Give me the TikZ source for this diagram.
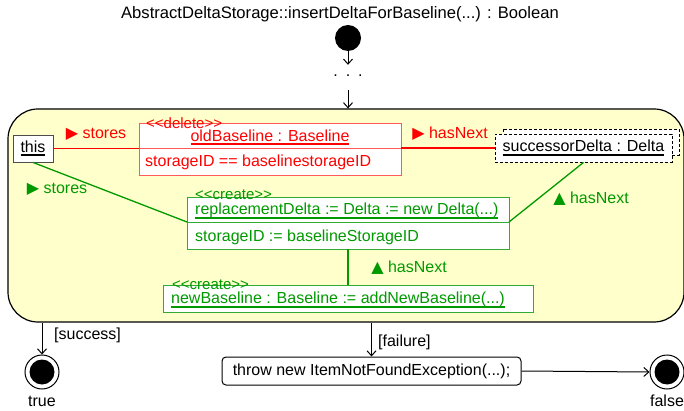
\documentclass[tikz,border=0pt]{standalone}
\usepackage{fontspec}
\setmainfont{Liberation Sans}
\newfontfamily\symf{DejaVu Sans}
\usetikzlibrary{arrows.meta}
\definecolor{actfill}{HTML}{FFFFCC}
\definecolor{delred}{HTML}{FF0000}
\definecolor{delbox}{HTML}{FF5A5A}
\definecolor{crgreen}{HTML}{009900}
\definecolor{crbox}{HTML}{33AA33}
\newcommand\rtri{{\symf\char"25B6}}
\newcommand\utri{{\symf\char"25B2}}
% thick underline for object names
\newsavebox\ulbox
\newcommand\objname[1]{\sbox\ulbox{#1}\rlap{\usebox\ulbox}\rule[-3.6pt]{\wd\ulbox}{1.8pt}}
\tikzset{
  every node/.style={font=\fontsize{16}{19}\selectfont, inner sep=0pt},
  stereo/.style={anchor=west, font=\fontsize{15}{17}\selectfont},
  flow/.style={draw=black, line width=1pt, -{Straight Barb[length=5pt,width=9pt]}},
  objbox/.style={draw, line width=0.9pt, fill=white},
  dellink/.style={draw=delred, line width=1.6pt},
  crlink/.style={draw=crgreen, line width=1.3pt},
  finalring/.style={circle, draw=black, line width=1pt, fill=white, minimum size=34pt},
  finaldot/.style={circle, fill=black, minimum size=25pt},
}
\begin{document}
\begin{tikzpicture}[x=1pt,y=-1pt]
\useasboundingbox (0,0) rectangle (684,411);

% header and initial node
\node[font=\fontsize{16.6}{19}\selectfont] (title) at (340,14) {AbstractDeltaStorage::insertDeltaForBaseline(...) : Boolean};
\node[circle, fill=black, minimum size=26pt] (start) at (348,38) {};
\node[minimum height=25pt] (dots) at (348,77.5) {\raisebox{4pt}{.\hspace{8pt}.\hspace{8pt}.}};

% activity region
\node[draw=black, line width=1.2pt, fill=actfill, rounded corners=30pt,
      minimum width=676pt, minimum height=213pt] (act) at (346,215.5) {};
\draw[flow] (start.south) -- (dots.north);
\draw[flow] (dots.south) -- (act.north -| dots.south);

% this
\node[draw=black!70, line width=0.9pt, fill=white, minimum width=40pt, minimum height=27pt] (this) at (33,148.5) {\objname{this}};

% oldBaseline (deleted)
\node[objbox, draw=delbox, minimum width=262pt, minimum height=52pt] (oldb) at (270,149) {};
\draw[draw=delbox, line width=0.9pt] (oldb.west |- 0,148) -- (oldb.east |- 0,148);
\node[stereo, text=delred] (oldst) at (146,123.5) {<{}<delete>{}>};
\node[text=delred] (oldname) at (270,137.5) {\objname{oldBaseline : Baseline}};
\node[anchor=west, text=delred] (oldcond) at (145,162) {storageID == baselinestorageID};

% successorDelta (multi-object)
\draw[dashed, dash pattern=on 3pt off 2pt, line width=0.9pt, fill=white] (503,129) rectangle (679,155);
\node[draw=black, dashed, dash pattern=on 3pt off 2pt, line width=0.9pt, fill=white,
      minimum width=177pt, minimum height=28pt] (succ) at (583.5,148) {\objname{successorDelta : Delta}};

% replacementDelta (created)
\node[objbox, draw=crbox, minimum width=322pt, minimum height=52pt] (repl) at (348,223) {};
\draw[draw=crbox, line width=0.9pt] (repl.west |- 0,222) -- (repl.east |- 0,222);
\node[stereo, text=crgreen] (replst) at (195,195) {<{}<create>{}>};
\node[anchor=west, text=crgreen] (replname) at (195,211) {\objname{replacementDelta := Delta := new Delta(...)}};
\node[anchor=west, text=crgreen] (replassign) at (195,237) {storageID := baselineStorageID};

% newBaseline (created)
\node[objbox, draw=crbox, minimum width=370pt, minimum height=27pt] (newb) at (348,298.5) {};
\node[stereo, text=crgreen] (newbst) at (172,285) {<{}<create>{}>};
\node[anchor=west, text=crgreen] (newbname) at (171,300) {\objname{newBaseline : Baseline := addNewBaseline(...)}};

% links
\coordinate (replL) at (187,222);
\coordinate (replR) at (509,222);
\draw[dellink] (this.east) -- (oldb.west |- this.east);
\draw[dellink] (oldb.east |- succ.west) -- (succ.west);
\draw[crlink] (this.south) -- (replL);
\draw[crlink] (replR) -- (succ.south);
\draw[crlink] (repl.south) -- (newb.north);

% link labels
\node[text=delred] (l1) at (96,134) {\rtri\ stores};
\node[text=delred] (l2) at (450,134) {\rtri\ hasNext};
\node[text=crgreen] (l3) at (57,189) {\rtri\ stores};
\node[text=crgreen] (l4) at (591,199) {\utri\ hasNext};
\node[text=crgreen] (l5) at (409,268) {\utri\ hasNext};

% outcomes
\node[finalring] (trueend) at (42,372) {};
\node[finaldot] at (trueend) {};
\node (truelbl) at (42,401) {true};
\node[finalring] (falseend) at (667,372) {};
\node[finaldot] at (falseend) {};
\node (falselbl) at (667,401) {false};
\node[draw=black, line width=1pt, rounded corners=4pt, fill=white,
      minimum width=299pt, minimum height=28pt] (throw) at (371.5,371) {throw new ItemNotFoundException(...);};

\draw[flow] (act.south -| trueend.north) -- (trueend.north);
\node[anchor=west] (succlbl) at (54,335) {[success]};
\draw[flow] (act.south -| throw.north) -- (throw.north);
\node[anchor=west] (faillbl) at (378,342) {[failure]};
\draw[flow] (throw.east) -- (falseend.west);
\end{tikzpicture}
\end{document}
